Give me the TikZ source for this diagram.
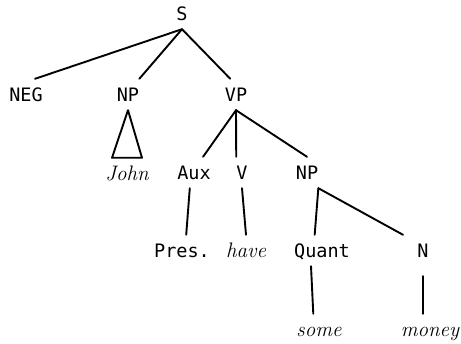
\documentclass[tikz,border=0pt]{standalone}
\usepackage{fontspec}
\newfontfamily\labelfont{DejaVu Sans Mono}

\tikzset{
  cat/.style={anchor=base,inner sep=0pt,text height=23pt,text depth=8pt,
    font=\labelfont\fontsize{18.5}{20}\selectfont},
  word/.style={cat,font=\fontsize{21}{24}\selectfont\itshape},
  branch/.style={line width=1.9pt,line cap=round}
}

\begin{document}
\begin{tikzpicture}[x=1pt,y=-1pt]

% white page with the size of the original
\useasboundingbox [fill=white] (0,0) rectangle (461,344);

% top level
\node[cat] (S) at (182,21) {S};
\node[cat] (NEG) at (26,102) {NEG};
\node[cat] (NPsubj) at (128,102) {NP};
\node[cat] (VP) at (236,102) {VP};

% second level
\node[word] (John) at (127,181) {John};
\node[cat] (Aux) at (194,180) {Aux};
\node[cat] (V) at (242,180) {V};
\node[cat] (NPobj) at (307,180) {NP};

% third level
\node[cat] (Pres) at (182,258) {Pres.};
\node[word] (have) at (246,258) {have};
\node[cat] (Quant) at (322,258) {Quant};
\node[cat] (N) at (423,258) {N};

% leaves
\node[word] (some) at (319,337) {some};
\node[word] (money) at (430,337) {money};

% branches of S
\draw[branch] (S.south) -- (NEG.60);
\draw[branch] (S.south) -- (NPsubj.north east);
\draw[branch] (S.south) -- (VP.110);

% subject NP as a triangle
\draw[branch,line join=round] (NPsubj.south) -- ([xshift=-15pt]John.north)
  -- ([xshift=15pt]John.north) -- cycle;

% branches of VP
\draw[branch] (VP.south) -- (Aux.60);
\draw[branch] (VP.south) -- (V.north west);
\draw[branch] (VP.south) -- (NPobj.north);
\draw[branch] (Aux.255) -- (Pres.75);
\draw[branch] (V.south) -- (have.north);

% object NP
\draw[branch] (NPobj.south east) -- (Quant.115);
\draw[branch] (NPobj.south east) -- ([xshift=-20pt]N.north);
\draw[branch] (Quant.235) -- (some.110);
\draw[branch,shorten <=10pt] (N.south) -- (N.south |- money.north);

\end{tikzpicture}
\end{document}
